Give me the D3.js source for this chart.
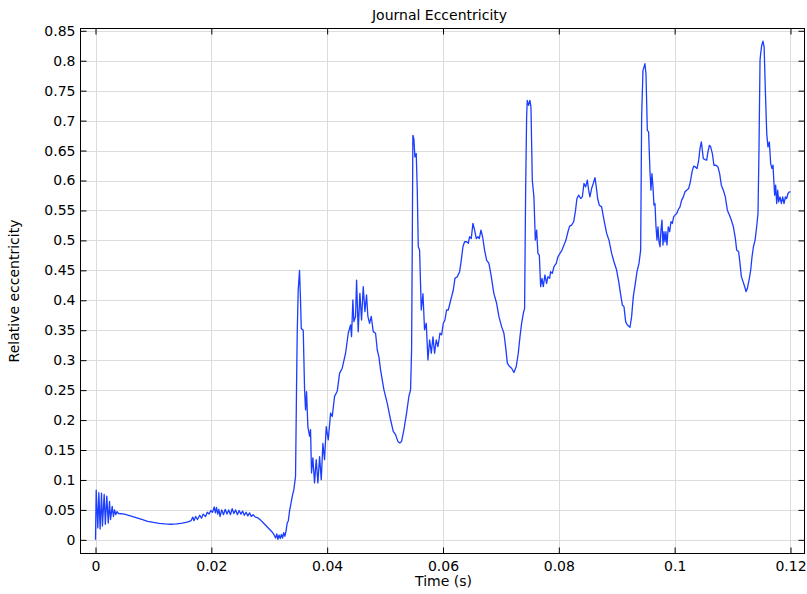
<!DOCTYPE html>
<html>
<head>
<meta charset="utf-8">
<script src="https://cdn.jsdelivr.net/npm/d3@7"></script>
<style>
  html, body { margin: 0; padding: 0; background: #fff; }
  svg { display: block; font-family: "DejaVu Sans", sans-serif; }
</style>
</head>
<body>
<svg id="chart" width="807" height="594"></svg>
<script>
// Journal eccentricity versus time (s)
const timeS = [
  0, 0.00012, 0.0004, 0.00058, 0.0008, 0.00104, 0.0012, 0.0015, 0.0017, 0.00195,
  0.0022, 0.00242, 0.0026, 0.00288, 0.0031, 0.0033, 0.0035, 0.0037, 0.004, 0.005,
  0.006, 0.007, 0.008, 0.009, 0.010, 0.011, 0.012, 0.013, 0.014, 0.015,
  0.016, 0.0165, 0.0168, 0.017, 0.0173, 0.0176, 0.018, 0.0183, 0.0186, 0.019,
  0.0193, 0.0196, 0.0199, 0.0202, 0.0205, 0.0207, 0.0209, 0.0211, 0.0213, 0.0215,
  0.0218, 0.0221, 0.0224, 0.0227, 0.023, 0.0233, 0.0236, 0.0239, 0.0242, 0.0245,
  0.0248, 0.0251, 0.0254, 0.0257, 0.026, 0.0263, 0.0266, 0.0269, 0.0272, 0.0276,
  0.028, 0.0285, 0.029, 0.0295, 0.03, 0.0305, 0.0308, 0.0311, 0.0313, 0.0315,
  0.0317, 0.0319, 0.0321, 0.0323, 0.0325, 0.0327, 0.0329, 0.0331, 0.0333, 0.0335,
  0.0337, 0.03397, 0.03425, 0.03454, 0.03472, 0.03483, 0.035, 0.03523, 0.0354, 0.03553,
  0.03587, 0.0361, 0.03627, 0.03644, 0.03667, 0.03696, 0.03713, 0.0373, 0.03753, 0.03782,
  0.03811, 0.0384, 0.03869, 0.03898, 0.03926, 0.03955, 0.03984, 0.04019, 0.04059, 0.04088,
  0.04128, 0.04174, 0.04214, 0.0426, 0.04318, 0.04364, 0.04404, 0.04421, 0.04444, 0.04461,
  0.0449, 0.04508, 0.04536, 0.04565, 0.04594, 0.04623, 0.04652, 0.0468, 0.04703, 0.04732,
  0.04761, 0.04796, 0.04836, 0.04865, 0.04893, 0.04922, 0.0498, 0.05038, 0.05095, 0.05141,
  0.05181, 0.05221, 0.05256, 0.05285, 0.05325, 0.05371, 0.05411, 0.0544, 0.05458, 0.05469,
  0.0548, 0.05497, 0.05515, 0.05538, 0.05556, 0.05573, 0.05596, 0.05625, 0.05654, 0.05682,
  0.05711, 0.0574, 0.05769, 0.05798, 0.05827, 0.05855, 0.05884, 0.05913, 0.05947, 0.05976,
  0.06005, 0.06034, 0.06062, 0.06091, 0.0612, 0.06149, 0.06178, 0.06206, 0.06247, 0.06287,
  0.06316, 0.06344, 0.06373, 0.06408, 0.06437, 0.06459, 0.06488, 0.06517, 0.06546, 0.06575,
  0.06603, 0.06627, 0.06655, 0.06684, 0.06718, 0.06753, 0.06793, 0.06834, 0.06879, 0.06926,
  0.06966, 0.07012, 0.07052, 0.07081, 0.07111, 0.0715, 0.07185, 0.07225, 0.07265, 0.073,
  0.07329, 0.07358, 0.07387, 0.07409, 0.07427, 0.07444, 0.07455, 0.07478, 0.07501, 0.07519,
  0.07542, 0.0757, 0.07594, 0.07617, 0.07639, 0.07663, 0.07686, 0.07709, 0.07732, 0.0776,
  0.07789, 0.07812, 0.07841, 0.07858, 0.07887, 0.07916, 0.07956, 0.07985, 0.0802, 0.08054,
  0.08089, 0.08123, 0.08158, 0.08187, 0.08221, 0.08256, 0.08285, 0.08313, 0.08342, 0.08377,
  0.08406, 0.08434, 0.08463, 0.08492, 0.08515, 0.08537, 0.08566, 0.08595, 0.08624, 0.08647,
  0.0867, 0.08699, 0.08739, 0.0878, 0.08826, 0.08866, 0.08912, 0.08952, 0.08998, 0.09039,
  0.09067, 0.09097, 0.09125, 0.09154, 0.09183, 0.09229, 0.09257, 0.09286, 0.09321, 0.0935,
  0.09384, 0.09413, 0.0943, 0.09453, 0.0947, 0.09487, 0.09505, 0.09528, 0.0955, 0.09573,
  0.09591, 0.09608, 0.09626, 0.09643, 0.0966, 0.09678, 0.09695, 0.09712, 0.0973, 0.09747,
  0.09764, 0.09781, 0.09798, 0.09816, 0.09833, 0.0985, 0.09867, 0.0989, 0.09914, 0.09936,
  0.0996, 0.09983, 0.10006, 0.10035, 0.10064, 0.10092, 0.10121, 0.1015, 0.10179, 0.10207,
  0.10242, 0.10271, 0.103, 0.10328, 0.10357, 0.10386, 0.10415, 0.10437, 0.10461, 0.10478,
  0.10495, 0.10523, 0.10553, 0.10575, 0.10599, 0.10622, 0.10651, 0.10679, 0.10714, 0.10748,
  0.10777, 0.10806, 0.10841, 0.10875, 0.1091, 0.10945, 0.10979, 0.11014, 0.11048, 0.11071,
  0.11105, 0.11128, 0.11152, 0.11181, 0.11209, 0.11232, 0.11256, 0.11285, 0.11313, 0.11336,
  0.1136, 0.11389, 0.11416, 0.11439, 0.11456, 0.11474, 0.11485, 0.11503, 0.11525, 0.11545,
  0.11566, 0.1159, 0.11611, 0.11635, 0.11658, 0.11681, 0.11698, 0.11715, 0.11727, 0.11744,
  0.11762, 0.11779, 0.11796, 0.11819, 0.11843, 0.11865, 0.11888, 0.11912, 0.11934, 0.11957,
  0.11981, 0.12
];

const eccentricity = [
  0, 0.083, 0.020, 0.079, 0.018, 0.078, 0.023, 0.076, 0.026, 0.073,
  0.028, 0.064, 0.034, 0.056, 0.039, 0.050, 0.042, 0.047, 0.044, 0.043,
  0.040, 0.037, 0.034, 0.031, 0.029, 0.0275, 0.0265, 0.026, 0.0265, 0.028,
  0.030, 0.032, 0.038, 0.032, 0.039, 0.034, 0.041, 0.036, 0.043, 0.039,
  0.046, 0.043, 0.049, 0.046, 0.055, 0.045, 0.054, 0.043, 0.051, 0.039,
  0.050, 0.042, 0.051, 0.043, 0.050, 0.042, 0.052, 0.044, 0.050, 0.042,
  0.049, 0.043, 0.048, 0.041, 0.046, 0.040, 0.045, 0.039, 0.042, 0.038,
  0.037, 0.033, 0.028, 0.023, 0.018, 0.013, 0.009, 0.003, 0.010, 0.001,
  0.008, 0.002, 0.009, 0.003, 0.012, 0.006, 0.015, 0.028, 0.032, 0.048,
  0.058, 0.0727, 0.0838, 0.106, 0.26, 0.345, 0.417, 0.45, 0.40, 0.353,
  0.350, 0.2505, 0.217, 0.2475, 0.189, 0.173, 0.184, 0.1117, 0.137, 0.095,
  0.134, 0.095, 0.139, 0.1005, 0.161, 0.134, 0.189, 0.167, 0.2116, 0.206,
  0.2395, 0.248, 0.278, 0.2866, 0.3116, 0.345, 0.359, 0.3394, 0.4005, 0.3644,
  0.373, 0.4338, 0.3477, 0.4116, 0.367, 0.4227, 0.381, 0.4088, 0.373, 0.3616,
  0.373, 0.3477, 0.345, 0.317, 0.306, 0.2838, 0.2505, 0.228, 0.2005, 0.181,
  0.1755, 0.1644, 0.1616, 0.1644, 0.1838, 0.2116, 0.2394, 0.2505, 0.317, 0.4838,
  0.6755, 0.670, 0.6394, 0.645, 0.584, 0.4894, 0.4838, 0.3838, 0.411, 0.3505,
  0.3616, 0.3005, 0.3338, 0.3116, 0.339, 0.3116, 0.3338, 0.3227, 0.345, 0.3422,
  0.3616, 0.3672, 0.3838, 0.3838, 0.395, 0.406, 0.4172, 0.4366, 0.4394, 0.4477,
  0.467, 0.4894, 0.4977, 0.4977, 0.495, 0.5061, 0.503, 0.5283, 0.5172, 0.503,
  0.5061, 0.503, 0.5172, 0.5061, 0.4838, 0.467, 0.4616, 0.4394, 0.411, 0.395,
  0.3727, 0.356, 0.345, 0.3227, 0.295, 0.2894, 0.2866, 0.2794, 0.2894, 0.3116,
  0.339, 0.3616, 0.3783, 0.3866, 0.584, 0.7061, 0.7338, 0.7255, 0.7338, 0.7227,
  0.6005, 0.5727, 0.5005, 0.5172, 0.4783, 0.4755, 0.4227, 0.4366, 0.4227, 0.4422,
  0.4283, 0.4394, 0.4366, 0.4477, 0.4449, 0.456, 0.4616, 0.4727, 0.4783, 0.4838,
  0.4922, 0.5005, 0.5144, 0.5239, 0.5255, 0.5311, 0.5477, 0.5699, 0.5755, 0.5699,
  0.5727, 0.595, 0.5894, 0.6005, 0.5838, 0.5727, 0.5866, 0.595, 0.6049, 0.5894,
  0.5699, 0.5588, 0.556, 0.5338, 0.5116, 0.5005, 0.4783, 0.4644, 0.4505, 0.4283,
  0.41, 0.392, 0.3894, 0.3644, 0.3588, 0.355, 0.3727, 0.4061, 0.4283, 0.4477,
  0.4616, 0.4838, 0.7061, 0.7838, 0.7894, 0.795, 0.7783, 0.6838, 0.6811, 0.6172,
  0.5838, 0.6116, 0.5894, 0.5588, 0.5616, 0.5227, 0.5005, 0.5227, 0.4977, 0.4894,
  0.5172, 0.5339, 0.4922, 0.5144, 0.4977, 0.5144, 0.4922, 0.5227, 0.5144, 0.5311,
  0.5283, 0.5394, 0.5422, 0.545, 0.5516, 0.5561, 0.5672, 0.5727, 0.5811, 0.5838,
  0.5866, 0.5977, 0.6144, 0.6239, 0.6227, 0.62, 0.6339, 0.6533, 0.6644, 0.6505,
  0.6366, 0.635, 0.6339, 0.6477, 0.6588, 0.6561, 0.645, 0.6255, 0.6255, 0.6227,
  0.6116, 0.5922, 0.5838, 0.5727, 0.5505, 0.5422, 0.5339, 0.5227, 0.5033, 0.4838,
  0.4811, 0.4616, 0.4394, 0.4311, 0.4227, 0.4144, 0.42, 0.4339, 0.4505, 0.4727,
  0.4894, 0.5005, 0.5227, 0.545, 0.6505, 0.8005, 0.8117, 0.8255, 0.8327, 0.8227,
  0.7505, 0.6783, 0.656, 0.6644, 0.6283, 0.6199, 0.6255, 0.595, 0.5755, 0.5922,
  0.5616, 0.5838, 0.5644, 0.5727, 0.5616, 0.5727, 0.5616, 0.5727, 0.5699, 0.5783,
  0.5811, 0.5811
];

const xTicks = [0, 0.02, 0.04, 0.06, 0.08, 0.1, 0.12];
const xTickLabels = ["0", "0.02", "0.04", "0.06", "0.08", "0.1", "0.12"];
const yTicks = [0, 0.05, 0.1, 0.15, 0.2, 0.25, 0.3, 0.35, 0.4, 0.45, 0.5, 0.55, 0.6, 0.65, 0.7, 0.75, 0.8, 0.85];
const yTickLabels = ["0", "0.05", "0.1", "0.15", "0.2", "0.25", "0.3", "0.35", "0.4", "0.45", "0.5", "0.55", "0.6", "0.65", "0.7", "0.75", "0.8", "0.85"];

const titleText = "Journal Eccentricity";
const xLabelText = "Time (s)";
const yLabelText = "Relative eccentricity";

const svg = d3.select("#chart");
const frame = { left: 80.5, right: 804.5, top: 28.5, bottom: 553.5 };

const x = d3.scaleLinear().domain([-0.00259, 0.12242]).range([frame.left, frame.right]);
const y = d3.scaleLinear().domain([-0.0228, 0.8538]).range([frame.bottom, frame.top]);

const gridColor = "#dcdcdc";
const tickLen = 6;
const fontSize = "14px";

// grid
const grid = svg.append("g");
grid.selectAll(".gx").data(xTicks).join("line")
  .attr("x1", d => Math.round(x(d)) + 0.5).attr("x2", d => Math.round(x(d)) + 0.5)
  .attr("y1", frame.top).attr("y2", frame.bottom)
  .attr("stroke", gridColor).attr("stroke-width", 1);
grid.selectAll(".gy").data(yTicks).join("line")
  .attr("x1", frame.left).attr("x2", frame.right)
  .attr("y1", d => Math.round(y(d)) + 0.5).attr("y2", d => Math.round(y(d)) + 0.5)
  .attr("stroke", gridColor).attr("stroke-width", 1);

// data line
svg.append("clipPath").attr("id", "plotClip")
  .append("rect")
  .attr("x", frame.left).attr("y", frame.top)
  .attr("width", frame.right - frame.left).attr("height", frame.bottom - frame.top);

const line = d3.line()
  .x((d, i) => x(timeS[i]))
  .y(d => y(d));

svg.append("path")
  .attr("clip-path", "url(#plotClip)")
  .attr("d", line(eccentricity))
  .attr("fill", "none")
  .attr("stroke", "#1b3dff")
  .attr("stroke-width", 1.3)
  .attr("stroke-linejoin", "round");

// axes with inward ticks on all four sides
const fmtX = (d, i) => xTickLabels[i];
const fmtY = (d, i) => yTickLabels[i];

function styleAxis(g) {
  g.select(".domain").remove();
  g.selectAll(".tick line").attr("stroke", "#000");
  g.selectAll(".tick text").attr("fill", "#000").style("font-size", fontSize)
    .style("font-family", "'DejaVu Sans', sans-serif");
}

svg.append("g").attr("transform", `translate(${frame.left},0)`)
  .call(d3.axisLeft(y).tickValues(yTicks).tickFormat(fmtY).tickSize(-tickLen).tickPadding(5))
  .call(styleAxis);
svg.append("g").attr("transform", `translate(${frame.right},0)`)
  .call(d3.axisRight(y).tickValues(yTicks).tickFormat("").tickSize(-tickLen))
  .call(styleAxis);
svg.append("g").attr("transform", `translate(0,${frame.bottom})`)
  .call(d3.axisBottom(x).tickValues(xTicks).tickFormat(fmtX).tickSize(-tickLen).tickPadding(8))
  .call(styleAxis);
svg.append("g").attr("transform", `translate(0,${frame.top})`)
  .call(d3.axisTop(x).tickValues(xTicks).tickFormat("").tickSize(-tickLen))
  .call(styleAxis);

// frame
svg.append("rect")
  .attr("x", frame.left).attr("y", frame.top)
  .attr("width", frame.right - frame.left).attr("height", frame.bottom - frame.top)
  .attr("fill", "none").attr("stroke", "#000").attr("stroke-width", 1);

// titles
svg.append("text")
  .attr("x", (frame.left + frame.right) / 2 - 3).attr("y", 19.5)
  .attr("text-anchor", "middle").style("font-size", fontSize).text(titleText);
svg.append("text")
  .attr("x", (frame.left + frame.right) / 2 + 1).attr("y", 586)
  .attr("text-anchor", "middle").style("font-size", fontSize).text(xLabelText);
svg.append("text")
  .attr("transform", `translate(19,291) rotate(-90)`)
  .attr("text-anchor", "middle").style("font-size", fontSize).text(yLabelText);
</script>
</body>
</html>
